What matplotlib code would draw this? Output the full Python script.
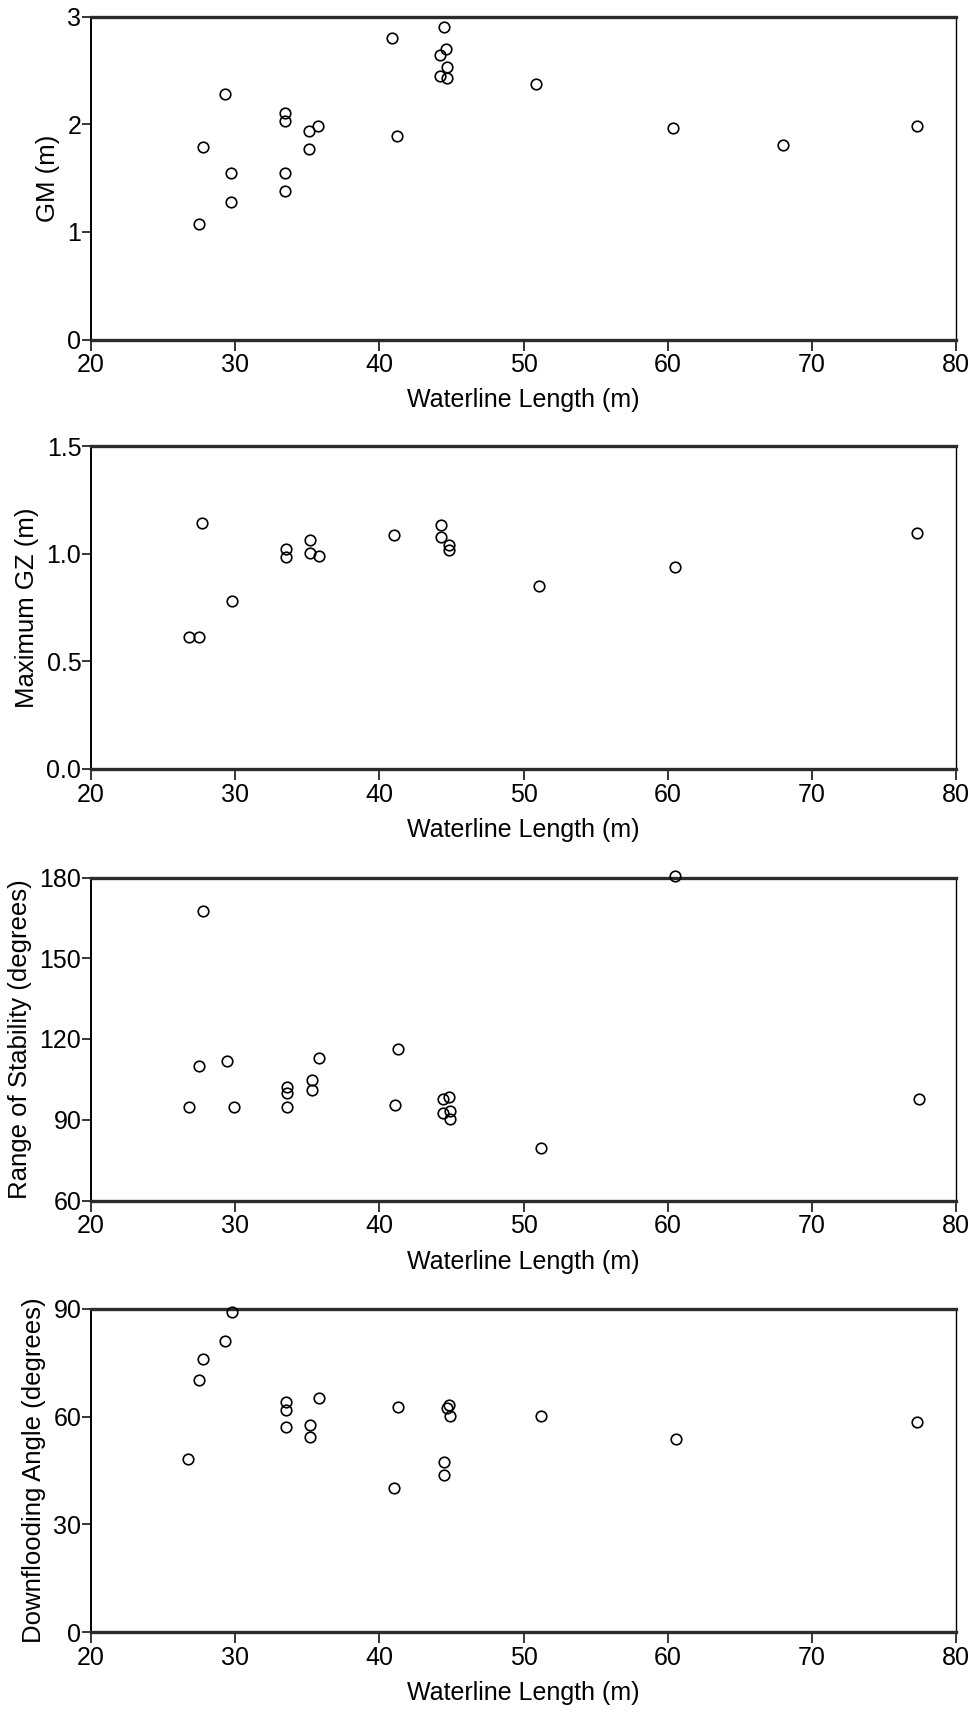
import matplotlib
matplotlib.use("Agg")
import matplotlib.pyplot as plt

plt.rcParams['font.family'] = ['Liberation Sans', 'DejaVu Sans']

# waterline length (m) and stability measures for each vessel
gm_len = [40.9, 44.5, 44.6, 44.2, 44.7, 44.2, 44.7, 50.9, 41.2,
          29.3, 33.45, 33.45, 35.14, 35.76, 27.74, 35.14, 29.73, 33.45,
          33.45, 29.73, 27.46, 60.4, 68.0, 77.3]
gm_val = [2.80, 2.90, 2.70, 2.64, 2.53, 2.45, 2.43, 2.37, 1.89,
          2.28, 2.10, 2.03, 1.94, 1.98, 1.79, 1.77, 1.55, 1.55,
          1.38, 1.28, 1.07, 1.96, 1.81, 1.98]

gz_len = [27.7, 26.8, 27.5, 29.8, 33.5, 33.5, 35.2, 35.2, 35.8,
          41.0, 44.3, 44.3, 44.8, 44.8, 51.1, 60.5, 77.3]
gz_val = [1.142, 0.614, 0.614, 0.782, 1.023, 0.985, 1.062, 1.003, 0.989,
          1.088, 1.134, 1.077, 1.039, 1.015, 0.852, 0.940, 1.094]

ros_len = [60.5, 27.8, 41.3, 35.8, 29.4, 27.5, 35.3, 35.3, 33.6, 33.6,
           33.6, 26.8, 29.9, 41.1, 44.4, 44.8, 44.4, 44.9, 44.9, 51.2, 77.4]
ros_val = [180.4, 167.7, 116.4, 112.8, 111.7, 109.9, 104.9, 101.2, 102.1, 99.8,
           94.9, 94.9, 94.9, 95.3, 97.8, 98.4, 92.4, 93.1, 90.4, 79.6, 97.8]

dfa_len = [29.8, 29.3, 27.8, 27.5, 33.5, 33.5, 33.5, 35.8, 35.2, 35.2,
           26.7, 41.3, 41.0, 44.8, 44.7, 44.9, 44.5, 44.5, 51.2, 60.6, 77.3]
dfa_val = [89.1, 81.0, 76.0, 70.1, 64.2, 61.8, 57.1, 65.3, 57.6, 54.4,
           48.1, 62.6, 40.1, 63.3, 62.3, 60.1, 47.4, 43.7, 60.3, 53.8, 58.6]

panels = [
    (gm_len, gm_val, "GM (m)", (0, 3), [0, 1, 2, 3], ["0", "1", "2", "3"]),
    (gz_len, gz_val, "Maximum GZ (m)", (0, 1.5), [0, 0.5, 1.0, 1.5],
     ["0.0", "0.5", "1.0", "1.5"]),
    (ros_len, ros_val, "Range of Stability (degrees)", (60, 180),
     [60, 90, 120, 150, 180], ["60", "90", "120", "150", "180"]),
    (dfa_len, dfa_val, "Downflooding Angle (degrees)", (0, 90),
     [0, 30, 60, 90], ["0", "30", "60", "90"]),
]

W, H = 970, 1712
fig = plt.figure(figsize=(W / 100, H / 100), dpi=100)

left, right = 91, 956
tops = [16.5, 446, 877.5, 1309]
ax_h = 323

for (xs, ys, label, ylim, yt, ytl), top in zip(panels, tops):
    ax = fig.add_axes([left / W, 1 - (top + ax_h) / H, (right - left) / W, ax_h / H])
    ax.plot(xs, ys, ls='none', marker='o', ms=7.6, mfc='none', mec='black',
            mew=1.2, clip_on=False, zorder=5)
    ax.set_xlim(20, 80)
    ax.set_ylim(*ylim)
    ax.set_xticks(range(20, 81, 10))
    ax.set_yticks(yt)
    ax.set_yticklabels(ytl)
    ax.tick_params(axis='x', direction='out', length=8, width=1.1, pad=2,
                   labelsize=18)
    ax.tick_params(axis='y', direction='out', length=6.5, width=1.1, pad=0.5,
                   labelsize=18)
    ax.set_xlabel("Waterline Length (m)", fontsize=18, labelpad=8)
    ax.set_ylabel(label, fontsize=18.5, labelpad=5)
    for side in ('top', 'bottom'):
        ax.spines[side].set_linewidth(2.4)
        ax.spines[side].set_color('#2b2b2b')
    ax.spines['left'].set_linewidth(1.4)
    ax.spines['right'].set_linewidth(1.0)

fig.savefig("out.png", dpi=100)
